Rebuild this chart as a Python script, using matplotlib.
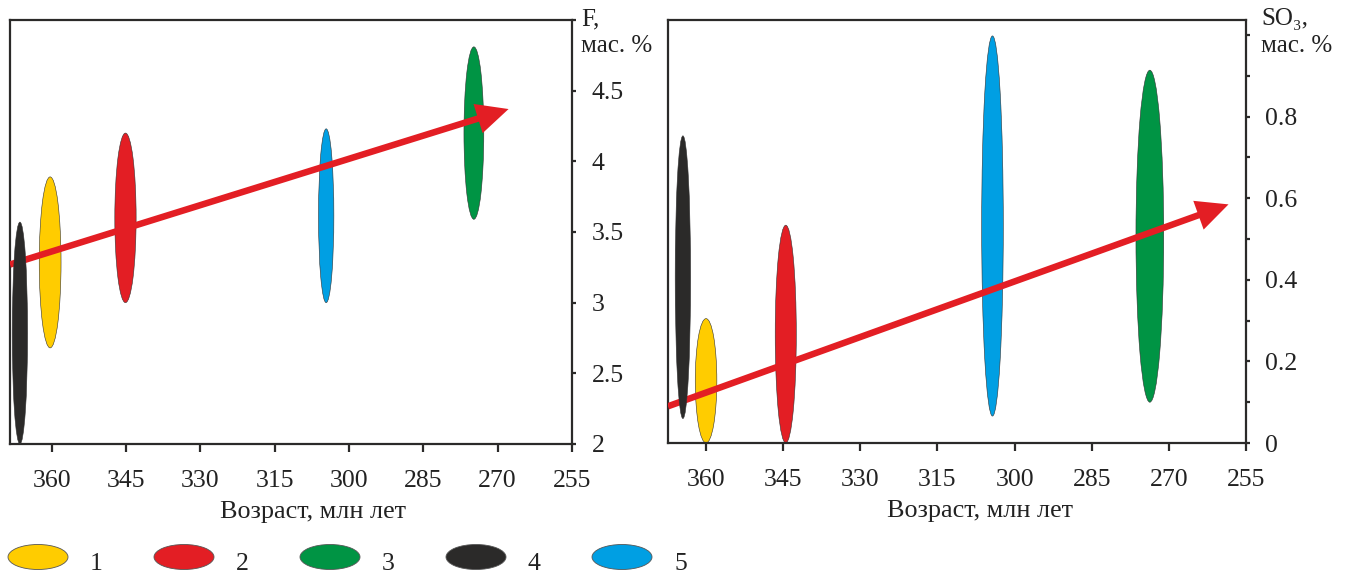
import matplotlib
matplotlib.use("Agg")
import matplotlib.pyplot as plt
from matplotlib.patches import Ellipse, FancyArrowPatch

plt.rcParams['font.family'] = ['Liberation Serif', 'DejaVu Serif']

# ---------------- data ----------------
groups = ['1', '2', '3', '4', '5']
colors = ['#FFCC00', '#E31E24', '#009444', '#2B2A29', '#009FE3']

# F panel: ellipse centre age (Ma), age spread (Ma), F range (wt. %)
f_age = [360.3, 345.1, 274.8, 366.4, 304.6]
f_age_width = [4.4, 4.3, 4.0, 3.1, 3.1]
f_low = [2.68, 3.00, 3.59, 2.00, 3.00]
f_high = [3.89, 4.20, 4.81, 3.57, 4.23]
f_trend_age = [368.4, 267.8]
f_trend_val = [3.27, 4.37]

# SO3 panel
so3_age = [360.0, 344.5, 273.7, 364.5, 304.3]
so3_age_width = [4.2, 4.1, 5.4, 3.0, 4.2]
so3_low = [0.0, 0.0, 0.10, 0.06, 0.066]
so3_high = [0.305, 0.534, 0.914, 0.753, 0.998]
so3_trend_age = [367.4, 258.4]
so3_trend_val = [0.09, 0.585]

x_ticks = [360, 345, 330, 315, 300, 285, 270, 255]
f_ticks = [2, 2.5, 3, 3.5, 4, 4.5, 5]
f_tick_labels = ['2', '2.5', '3', '3.5', '4', '4.5', '']
so3_ticks = [0, 0.1, 0.2, 0.3, 0.4, 0.5, 0.6, 0.7, 0.8, 0.9, 1.0]
so3_tick_labels = ['0', '', '0.2', '', '0.4', '', '0.6', '', '0.8', '', '']

xlabel = 'Возраст, млн лет'
f_title = 'F,\nмас. %'
so3_title = 'SO₃,\nмас. %'

# ---------------- figure ----------------
W, H = 1345, 574
fig = plt.figure(figsize=(W / 100, H / 100), dpi=100)
fig.patch.set_facecolor('white')

axc = '#2B2A29'
arrow_red = '#E31E24'
fs = 18.5
txtc = '#222222'


def px_rect(l, t, r, b):
    return [l / W, 1 - b / H, (r - l) / W, (b - t) / H]


def setup(ax, xlim, ylim, yticks, ylabels):
    ax.set_xlim(*xlim)
    ax.set_ylim(*ylim)
    for s in ax.spines.values():
        s.set_color(axc)
        s.set_linewidth(1.6)
    ax.yaxis.tick_right()
    ax.set_xticks(x_ticks)
    ax.set_xticklabels([str(t) for t in x_ticks])
    ax.set_yticks(yticks)
    ax.set_yticklabels(ylabels)
    ax.tick_params(axis='x', direction='out', length=5.5, width=1.6,
                   color=axc, pad=13, labelsize=fs, labelcolor=txtc)
    ax.tick_params(axis='y', direction='out', length=3, width=1.6,
                   color=axc, pad=11, labelsize=fs, labelcolor=txtc)
    ax.set_xlabel(xlabel, fontsize=18.8, color=txtc)
    ax.xaxis.set_label_coords(0.54, -0.135)


def draw(ax, ages, widths, lows, highs, tr_age, tr_val):
    for i in [0, 1, 2, 4]:
        ax.add_patch(Ellipse((ages[i], (lows[i] + highs[i]) / 2),
                             widths[i], highs[i] - lows[i],
                             facecolor=colors[i], edgecolor='#333333',
                             lw=0.4, zorder=2))
    arr = FancyArrowPatch((tr_age[0], tr_val[0]), (tr_age[1], tr_val[1]),
                          arrowstyle='simple,head_length=2.3,head_width=2.2,tail_width=0.47',
                          mutation_scale=10, lw=0, color=arrow_red,
                          shrinkA=0, shrinkB=0, zorder=3)
    ax.add_patch(arr)
    i = 3
    ax.add_patch(Ellipse((ages[i], (lows[i] + highs[i]) / 2),
                         widths[i], highs[i] - lows[i],
                         facecolor=colors[i], edgecolor='#333333',
                         lw=0.4, zorder=4))


ax1 = fig.add_axes(px_rect(10, 20, 572, 444))
setup(ax1, (368.4, 255), (2, 5), f_ticks, f_tick_labels)
draw(ax1, f_age, f_age_width, f_low, f_high, f_trend_age, f_trend_val)

ax2 = fig.add_axes(px_rect(668, 20, 1246, 443))
setup(ax2, (367.4, 255), (0, 1.037), so3_ticks, so3_tick_labels)
draw(ax2, so3_age, so3_age_width, so3_low, so3_high, so3_trend_age, so3_trend_val)

fig.text(581 / W, 1 - 8 / H, f_title, ha='left', va='top', fontsize=18,
         linespacing=1.3, color=txtc)
fig.text(1261 / W, 1 - 8 / H, so3_title, ha='left', va='top', fontsize=18,
         linespacing=1.3, color=txtc)

# ---------------- legend ----------------
lax = fig.add_axes([0, 0, 1, 60 / H])
lax.set_xlim(0, W)
lax.set_ylim(0, 60)
lax.axis('off')
start, step = 38, 146
for k, i in enumerate(range(len(groups))):
    cx = start + k * step
    lax.add_patch(Ellipse((cx, 17), 60, 25, facecolor=colors[i],
                          edgecolor='#555555', lw=0.6))
    lax.text(cx + 52, 4, groups[i], ha='left', va='baseline', fontsize=fs,
             color=txtc)

fig.savefig('out.png', dpi=100, facecolor='white')
